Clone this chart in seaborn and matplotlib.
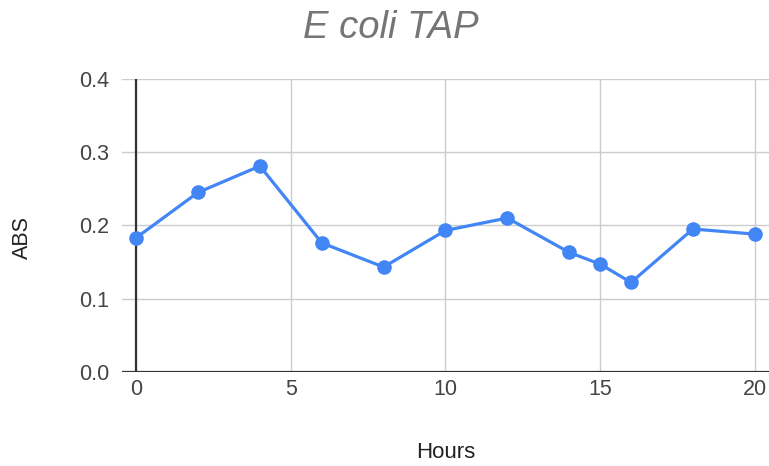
import matplotlib
matplotlib.use("Agg")
import matplotlib.pyplot as plt
import seaborn as sns
import pandas as pd

hours = [0, 2, 4, 6, 8, 10, 12, 14, 15, 16, 18, 20]
absorbance = [0.183, 0.245, 0.281, 0.176, 0.143, 0.193, 0.210, 0.163, 0.147, 0.122, 0.195, 0.188]
x_ticks = [0, 5, 10, 15, 20]
y_ticks = [0.0, 0.1, 0.2, 0.3, 0.4]

sns.set_style("white")
plt.rcParams["font.family"] = ["Liberation Sans", "DejaVu Sans"]

df = pd.DataFrame({"Hours": hours, "ABS": absorbance})

fig = plt.figure(figsize=(7.69, 4.66), dpi=100)
ax = fig.add_axes([0.1586, 0.2024, 0.8414, 0.6281])

blue = "#4285F4"
sns.lineplot(data=df, x="Hours", y="ABS", ax=ax, color=blue, linewidth=2.3,
             marker="o", markersize=10.5, markeredgewidth=0, markerfacecolor=blue)

ax.set_xlim(-0.46, 20.46)
ax.set_ylim(0, 0.4)
ax.set_xticks(x_ticks)
ax.set_yticks(y_ticks)
ax.set_yticklabels([f"{v:.1f}" for v in y_ticks])
ax.grid(True, color="#cccccc", linewidth=1.0)
ax.set_axisbelow(True)
for s in ax.spines.values():
    s.set_visible(False)
ax.axhline(0, color="#333333", linewidth=1.6, zorder=1.5)
ax.axvline(0, color="#333333", linewidth=1.6, zorder=1.5)
ax.tick_params(axis="both", length=0, labelsize=15.5, labelcolor="#444444")
ax.tick_params(axis="y", pad=9)
ax.tick_params(axis="x", pad=5)

ax.set_xlabel("")
ax.set_ylabel("")
fig.text(0.579, 0.029, "Hours", ha="center", va="center", fontsize=16, color="#222222")
fig.text(0.029, 0.49, "ABS", ha="center", va="center", rotation=90, fontsize=15.5, color="#222222")
fig.text(0.508, 0.94, "E coli TAP", ha="center", va="center", fontsize=27.5,
         style="italic", color="#757575")

fig.savefig("out.png", dpi=100)
